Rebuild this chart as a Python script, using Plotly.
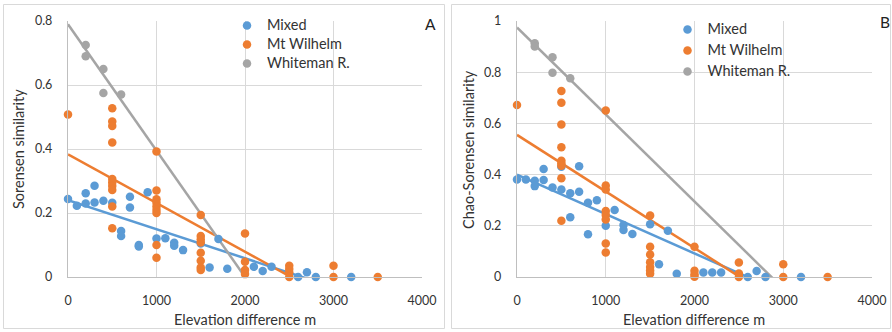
import plotly.graph_objects as go

W, H = 892, 332
FONT = "Lato"
TXT = "#333333"
C_MIX, C_WIL, C_WHI = "#5B9BD5", "#ED7D31", "#A5A5A5"

# ---------------- Panel A : Sorensen similarity ----------------
a_mixed_x = [0, 100, 200, 200, 300, 300, 400, 500, 600, 600, 700, 700, 800, 800, 900,
             1000, 1100, 1200, 1200, 1300, 1500, 1600, 1700, 1800, 2100, 2200, 2300,
             2600, 2700, 2800, 3200]
a_mixed_y = [0.244, 0.223, 0.23, 0.262, 0.285, 0.233, 0.238, 0.232, 0.144, 0.128, 0.251,
             0.217, 0.1, 0.095, 0.265, 0.12, 0.121, 0.107, 0.098, 0.084, 0.105, 0.03,
             0.119, 0.026, 0.032, 0.019, 0.032, 0.0, 0.015, 0.0, 0.0]
a_wil_x = [0, 500, 500, 500, 500, 500, 500, 500, 500, 500, 500,
           1000, 1000, 1000, 1000, 1000, 1000, 1000, 1000, 1000,
           1500, 1500, 1500, 1500, 1500, 1500, 1500, 1500,
           2000, 2000, 2000, 2000, 2500, 2500, 2500, 2500, 3000, 3000, 3500]
a_wil_y = [0.508, 0.527, 0.486, 0.472, 0.42, 0.306, 0.295, 0.284, 0.272, 0.22, 0.152,
           0.392, 0.27, 0.243, 0.232, 0.22, 0.209, 0.2, 0.1, 0.06,
           0.194, 0.128, 0.118, 0.108, 0.076, 0.051, 0.03, 0.022,
           0.136, 0.048, 0.022, 0.009, 0.035, 0.025, 0.015, 0.0, 0.035, 0.0, 0.0]
a_whi_x = [200, 200, 400, 400, 600]
a_whi_y = [0.725, 0.69, 0.65, 0.575, 0.57]
# linear trendlines (intercept, slope per m): Mixed, Mt Wilhelm, Whiteman
a_trend_b = [0.24, 0.383, 0.79]
a_trend_m = [-0.0000907, -0.000152, -0.000395]

# ---------------- Panel B : Chao-Sorensen similarity ----------------
b_mixed_x = [0, 100, 200, 200, 300, 300, 400, 500, 500, 600, 600, 700, 700, 800, 800, 900,
             1000, 1100, 1200, 1200, 1300, 1500, 1600, 1700, 1800, 2100, 2200, 2300,
             2600, 2700, 2800, 3200]
b_mixed_y = [0.381, 0.381, 0.376, 0.355, 0.422, 0.379, 0.35, 0.431, 0.342, 0.327, 0.233,
             0.433, 0.333, 0.29, 0.167, 0.3, 0.2, 0.262, 0.203, 0.184, 0.168, 0.206, 0.05,
             0.181, 0.013, 0.018, 0.018, 0.018, 0.0, 0.023, 0.0, 0.0]
b_wil_x = [0, 500, 500, 500, 500, 500, 500, 500, 500, 500,
           1000, 1000, 1000, 1000, 1000, 1000, 1000, 1000,
           1500, 1500, 1500, 1500, 1500, 1500, 1500,
           2000, 2000, 2000, 2000, 2500, 2500, 2500, 3000, 3000, 3500]
b_wil_y = [0.672, 0.727, 0.681, 0.596, 0.507, 0.454, 0.444, 0.435, 0.386, 0.22,
           0.65, 0.357, 0.342, 0.258, 0.242, 0.225, 0.131, 0.096,
           0.24, 0.118, 0.088, 0.058, 0.039, 0.025, 0.013,
           0.118, 0.024, 0.011, 0.001, 0.057, 0.014, 0.0, 0.05, 0.0, 0.0]
b_whi_x = [200, 200, 400, 400, 600]
b_whi_y = [0.913, 0.9, 0.858, 0.798, 0.776]
b_trend_b = [0.40, 0.555, 0.975]
b_trend_m = [-0.000154, -0.000221, -0.00034]

series_names = ["Mixed", "Mt Wilhelm", "Whiteman R."]
series_colors = [C_MIX, C_WIL, C_WHI]
x_ticks = [0, 1000, 2000, 3000, 4000]
a_y_ticks = [0, 0.2, 0.4, 0.6, 0.8]
b_y_ticks = [0, 0.2, 0.4, 0.6, 0.8, 1]
x_range = [0, 4000]

TITLE_SIZE = 14.5
TICK_SIZE = 12.5


def px_x(p):
    return p / W


def px_y(p):
    return 1 - p / H


fig = go.Figure()

panels = [
    dict(xa="x", ya="y", leg="legend",
         pts=[(a_mixed_x, a_mixed_y), (a_wil_x, a_wil_y), (a_whi_x, a_whi_y)],
         tb=a_trend_b, tm=a_trend_m),
    dict(xa="x2", ya="y2", leg="legend2",
         pts=[(b_mixed_x, b_mixed_y), (b_wil_x, b_wil_y), (b_whi_x, b_whi_y)],
         tb=b_trend_b, tm=b_trend_m),
]

for p in panels:
    # linear trendlines first (under the markers), clipped to the plot area
    for i in range(3):
        fig.add_trace(go.Scatter(
            x=x_range, y=[p["tb"][i] + p["tm"][i] * xv for xv in x_range],
            mode="lines", line=dict(color=series_colors[i], width=2.5),
            xaxis=p["xa"], yaxis=p["ya"], showlegend=False, hoverinfo="skip",
            cliponaxis=True))
    for i in range(3):
        xs, ys = p["pts"][i]
        fig.add_trace(go.Scatter(
            x=xs, y=ys, mode="markers",
            name=f'<span style="font-size:{TITLE_SIZE}px">{series_names[i]}</span>',
            hovertemplate=series_names[i] + ": %{x}, %{y}<extra></extra>",
            marker=dict(color=series_colors[i], size=8.5, line=dict(width=0)),
            xaxis=p["xa"], yaxis=p["ya"], legend=p["leg"], legendgroup=p["leg"] + str(i),
            cliponaxis=False))

axis_common = dict(showgrid=True, gridcolor="#D9D9D9", gridwidth=1, zeroline=False,
                   showline=True, linecolor="#BFBFBF", linewidth=1.3, ticks="",
                   automargin=False,
                   tickfont=dict(family=FONT, size=TICK_SIZE, color=TXT), fixedrange=True)

fig.update_layout(
    width=W, height=H, margin=dict(l=0, r=0, t=0, b=0, pad=0, autoexpand=False),
    paper_bgcolor="white", plot_bgcolor="white",
    font=dict(family=FONT, size=13, color=TXT),
    xaxis=dict(domain=[px_x(68), px_x(422)], range=x_range, tickvals=x_ticks,
               anchor="y", ticklabelstandoff=12, **axis_common),
    yaxis=dict(domain=[px_y(277), px_y(21)], range=[0, 0.8], tickvals=a_y_ticks,
               ticktext=[f"{v:g}" for v in a_y_ticks], anchor="x",
               ticklabelstandoff=12, **axis_common),
    xaxis2=dict(domain=[px_x(517), px_x(872)], range=x_range, tickvals=x_ticks,
                anchor="y2", ticklabelstandoff=12, **axis_common),
    yaxis2=dict(domain=[px_y(277), px_y(21)], range=[0, 1], tickvals=b_y_ticks,
                ticktext=[f"{v:g}" for v in b_y_ticks], anchor="x2",
                ticklabelstandoff=12, **axis_common),
    legend=dict(x=px_x(227), y=px_y(11), xanchor="left", yanchor="top",
                bgcolor="rgba(0,0,0,0)", font=dict(family=FONT, size=12, color=TXT),
                itemwidth=30, traceorder="normal"),
    legend2=dict(x=px_x(667.5), y=px_y(15), xanchor="left", yanchor="top",
                 bgcolor="rgba(0,0,0,0)", font=dict(family=FONT, size=12, color=TXT),
                 itemwidth=30, traceorder="grouped", tracegroupgap=2),
    showlegend=True,
)

shapes = [
    # white areas behind the legends (hide gridlines there)
    dict(type="rect", xref="paper", yref="paper", x0=px_x(187), x1=px_x(440),
         y0=px_y(70), y1=px_y(6), fillcolor="white", line=dict(width=0), layer="between"),
    dict(type="rect", xref="paper", yref="paper", x0=px_x(628), x1=px_x(889),
         y0=px_y(80), y1=px_y(6), fillcolor="white", line=dict(width=0), layer="between"),
    # panel borders
    dict(type="rect", xref="paper", yref="paper", x0=px_x(3.5), x1=px_x(444.5),
         y0=px_y(328.5), y1=px_y(4.5), line=dict(color="#D9D9D9", width=1), layer="below"),
    dict(type="rect", xref="paper", yref="paper", x0=px_x(451.5), x1=px_x(890.5),
         y0=px_y(328.5), y1=px_y(4.5), line=dict(color="#D9D9D9", width=1), layer="below"),
]
fig.update_layout(shapes=shapes)

ann_font = dict(family=FONT, size=TITLE_SIZE, color=TXT)
annotations = [
    dict(text="Elevation difference m", x=px_x(245), y=px_y(319), xref="paper", yref="paper",
         showarrow=False, xanchor="center", yanchor="middle", font=ann_font),
    dict(text="Elevation difference m", x=px_x(694), y=px_y(319), xref="paper", yref="paper",
         showarrow=False, xanchor="center", yanchor="middle", font=ann_font),
    dict(text="Sorensen similarity", x=px_x(18), y=px_y(149), xref="paper", yref="paper",
         showarrow=False, textangle=-90, xanchor="center", yanchor="middle", font=ann_font),
    dict(text="Chao-Sorensen similarity", x=px_x(468), y=px_y(149), xref="paper", yref="paper",
         showarrow=False, textangle=-90, xanchor="center", yanchor="middle", font=ann_font),
    dict(text="A", x=px_x(430), y=px_y(24), xref="paper", yref="paper",
         showarrow=False, xanchor="center", yanchor="middle",
         font=dict(family=FONT, size=15.5, color="#222222")),
    dict(text="B", x=px_x(885), y=px_y(22), xref="paper", yref="paper",
         showarrow=False, xanchor="center", yanchor="middle",
         font=dict(family=FONT, size=15.5, color="#222222")),
]
fig.update_layout(annotations=annotations)

fig.write_html("out.html")
